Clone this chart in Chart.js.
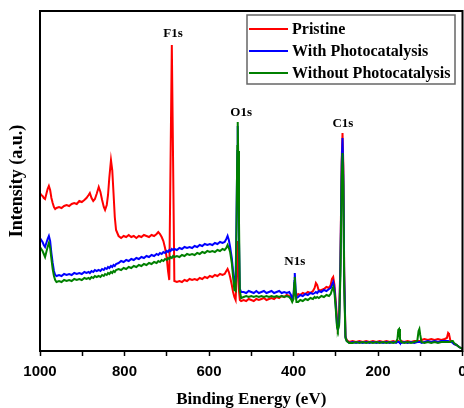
<!DOCTYPE html>
<html>
<head>
<meta charset="utf-8">
<script src="https://cdn.jsdelivr.net/npm/chart.js@4/dist/chart.umd.min.js"></script>
<style>
  html, body { margin: 0; background: #fff; }
</style>
</head>
<body>
<canvas id="xpsChart" width="464" height="408"></canvas>
<script>
// ===== DATA (binding energy in eV, intensity in arbitrary units) =====
const energy = [
  1000,997,994,991,988,985,982,979,976,973,970,967,964,961,
  955,949,943,937,931,925,919,913,907,901,895,890,885,882,878,874,870,866,861,857,853,849,846,842,839,836,832,829,826,823,820,
  814,808,802,796,790,784,778,772,766,760,754,748,742,736,730,724,720,716,712,708,704,700,697,694,691,688,685,682,
  676,670,664,658,652,646,640,634,628,622,616,610,604,598,592,586,580,574,568,563,559,556,553,550,546,543,540,537,535,533,532,531,529,527,524,
  518,512,506,500,494,488,482,476,470,464,458,452,446,440,434,428,422,416,410,406,403,400,398,397,395,393,389,384,378,372,
  366,360,354,350,347,344,340,334,328,322,316,312,309,306,303,300,297,295,292,289,286,284,282,280,277,274,
  268,260,252,244,236,228,220,212,204,196,188,180,172,164,157,154,152,150,148,145,138,130,122,114,107,104,102,100,97,90,
  82,74,66,58,50,42,37,34,32,29,26,23,20,14,8,0
];
const pristine = [
  158,156,155,153,152,157,162,165,161,153,148,144,142,143,
  144,143,145,146,145,147,148,147,150,149,151,153,156,158,153,150,152,157,164,159,151,144,141,146,156,173,191,181,158,134,121,
  115,113,115,114,116,114,115,113,115,114,116,115,114,116,115,117,119,117,114,110,103,93,80,71,190,306,190,70,
  69,70,69,71,70,72,71,72,71,73,72,74,73,75,74,76,75,77,76,77,80,82,79,74,66,59,54,51,70,100,110,90,60,51,50,
  51,50,52,51,50,52,51,52,53,51,52,53,52,54,53,55,54,56,55,53,52,55,60,63,57,55,57,56,58,57,
  59,58,60,63,68,66,60,61,62,64,63,66,72,74,66,50,32,26,32,90,190,218,185,80,15,11,
  9,10,9,10,9,10,9,10,9,10,9,10,9,10,9,10,10,9,9,10,9,10,9,10,10,10,10,10,11,12,
  11,12,11,12,11,12,13,18,17,11,9,9,7,6,4,2
];
const withPhotocatalysis = [
  113,111,109,106,104,108,112,115,110,98,88,80,76,75,
  76,75,77,76,77,76,78,77,78,77,79,78,79,78,80,79,81,80,81,80,82,81,83,82,84,83,85,84,86,85,87,
  88,90,89,91,90,92,91,93,92,94,93,95,94,96,95,97,96,98,97,99,98,100,99,101,100,102,101,102,
  101,103,102,104,103,104,103,105,104,106,105,107,106,107,106,108,107,109,108,109,112,115,111,104,93,80,68,70,130,200,225,190,110,62,59,
  59,58,60,59,58,60,58,59,60,58,59,60,58,59,60,58,59,58,59,56,52,56,70,78,62,53,54,56,55,57,
  56,58,57,58,59,58,60,59,61,60,62,63,66,69,62,45,26,21,28,85,185,213,175,75,14,10,
  8,9,8,9,8,9,8,9,8,9,8,9,8,9,8,9,9,9,8,8,9,8,9,8,9,9,9,9,8,9,
  10,9,10,9,10,10,10,10,10,9,9,8,7,6,4,2
];
const withoutPhotocatalysis = [
  104,102,100,97,94,99,104,108,103,92,82,75,71,69,
  70,69,71,70,71,70,72,71,72,71,73,72,73,72,74,73,75,74,75,74,76,75,77,76,78,77,79,78,80,79,81,
  82,81,83,82,84,83,85,84,86,85,87,86,88,87,89,88,90,89,91,90,92,91,93,92,94,93,95,94,
  95,94,96,95,97,96,97,96,98,97,99,98,100,99,100,99,101,100,102,101,103,106,103,99,88,74,61,60,120,205,229,200,130,60,53,
  54,55,54,55,54,55,54,55,54,55,54,55,54,55,54,55,54,55,54,52,49,52,68,74,58,49,49,51,50,52,
  51,53,52,54,53,54,53,55,54,56,55,57,61,64,58,42,24,21,26,75,170,198,165,65,13,10,
  8,8,9,8,9,8,9,8,9,8,9,8,9,8,9,12,21,22,12,9,8,9,8,9,10,20,22,16,9,8,
  9,8,9,8,9,9,9,9,9,9,10,10,8,6,4,2
];

const seriesNames = ['Pristine', 'With Photocatalysis', 'Without Photocatalysis'];
const seriesColors = ['#ff0000', '#0000ff', '#008000'];

// peak annotations: label, energy where the label sits, intensity where it sits
const peakNames = ['F1s', 'O1s', 'N1s', 'C1s'];
const peakLabelEnergies = [685, 524, 397, 283];
const peakLabelLevels = [317, 238, 89, 227];

const xMin = 0, xMax = 1000, xStep = 100, xLabelStep = 200;
const yMin = 0, yMax = 340;

const toPoints = arr => energy.map((e, i) => ({ x: e, y: arr[i] }));

// frame, peak labels and boxed legend
const decorations = {
  id: 'decorations',
  afterDraw(chart) {
    const { ctx, chartArea: a, scales: { x, y } } = chart;
    ctx.save();
    ctx.strokeStyle = '#000';
    ctx.lineWidth = 2;
    ctx.strokeRect(a.left, a.top, a.right - a.left, a.bottom - a.top);

    ctx.fillStyle = '#000';
    ctx.font = 'bold 13px "Liberation Serif"';
    ctx.textAlign = 'center';
    ctx.textBaseline = 'middle';
    peakNames.forEach((name, i) => {
      ctx.fillText(name, x.getPixelForValue(peakLabelEnergies[i]), y.getPixelForValue(peakLabelLevels[i]));
    });

    // legend box
    ctx.strokeStyle = '#666';
    ctx.lineWidth = 1.5;
    ctx.strokeRect(247, 15, 208, 69);
    ctx.font = 'bold 16px "Liberation Serif"';
    ctx.textAlign = 'left';
    seriesNames.forEach((name, i) => {
      const ly = 29 + i * 22;
      ctx.strokeStyle = seriesColors[i];
      ctx.lineWidth = 2;
      ctx.beginPath();
      ctx.moveTo(249, ly);
      ctx.lineTo(288, ly);
      ctx.stroke();
      ctx.fillStyle = '#000';
      ctx.fillText(name, 292, ly + 1);
    });
    ctx.restore();
  }
};

new Chart(document.getElementById('xpsChart'), {
  type: 'line',
  data: {
    datasets: [pristine, withPhotocatalysis, withoutPhotocatalysis].map((arr, i) => ({
      label: seriesNames[i],
      data: toPoints(arr),
      borderColor: seriesColors[i],
      backgroundColor: seriesColors[i],
      borderWidth: 2,
      pointRadius: 0,
      tension: 0,
      order: 2 - i
    }))
  },
  options: {
    responsive: false,
    animation: false,
    devicePixelRatio: 1,
    layout: { padding: { top: 11, right: 1.5, left: 0, bottom: 0 } },
    plugins: { legend: { display: false }, tooltip: { enabled: false } },
    scales: {
      x: {
        type: 'linear',
        reverse: true,
        min: xMin,
        max: xMax,
        border: { display: false },
        grid: { drawOnChartArea: false, tickLength: 5, tickColor: '#000', tickWidth: 1.5 },
        ticks: {
          stepSize: xStep,
          autoSkip: false,
          maxRotation: 0,
          padding: 7,
          color: '#000',
          font: { family: 'Liberation Sans', size: 15, weight: 'bold' },
          callback: v => (v % xLabelStep === 0 ? v : '')
        },
        title: {
          display: true,
          text: 'Binding Energy (eV)',
          color: '#000',
          font: { family: 'Liberation Serif', size: 17, weight: 'bold', lineHeight: 1 },
          padding: 0
        },
        afterFit(scale) {
          scale.height = 57;
          scale.paddingLeft = 0;
          scale.paddingRight = 0;
        }
      },
      y: {
        min: yMin,
        max: yMax,
        border: { display: false },
        grid: { display: false },
        ticks: { display: false },
        title: {
          display: true,
          text: 'Intensity (a.u.)',
          color: '#000',
          font: { family: 'Liberation Serif', size: 18, weight: 'bold' },
          padding: { top: 7, bottom: 0 }
        },
        afterFit(scale) {
          scale.width = 40;
        }
      }
    }
  },
  plugins: [decorations]
});
</script>
</body>
</html>
